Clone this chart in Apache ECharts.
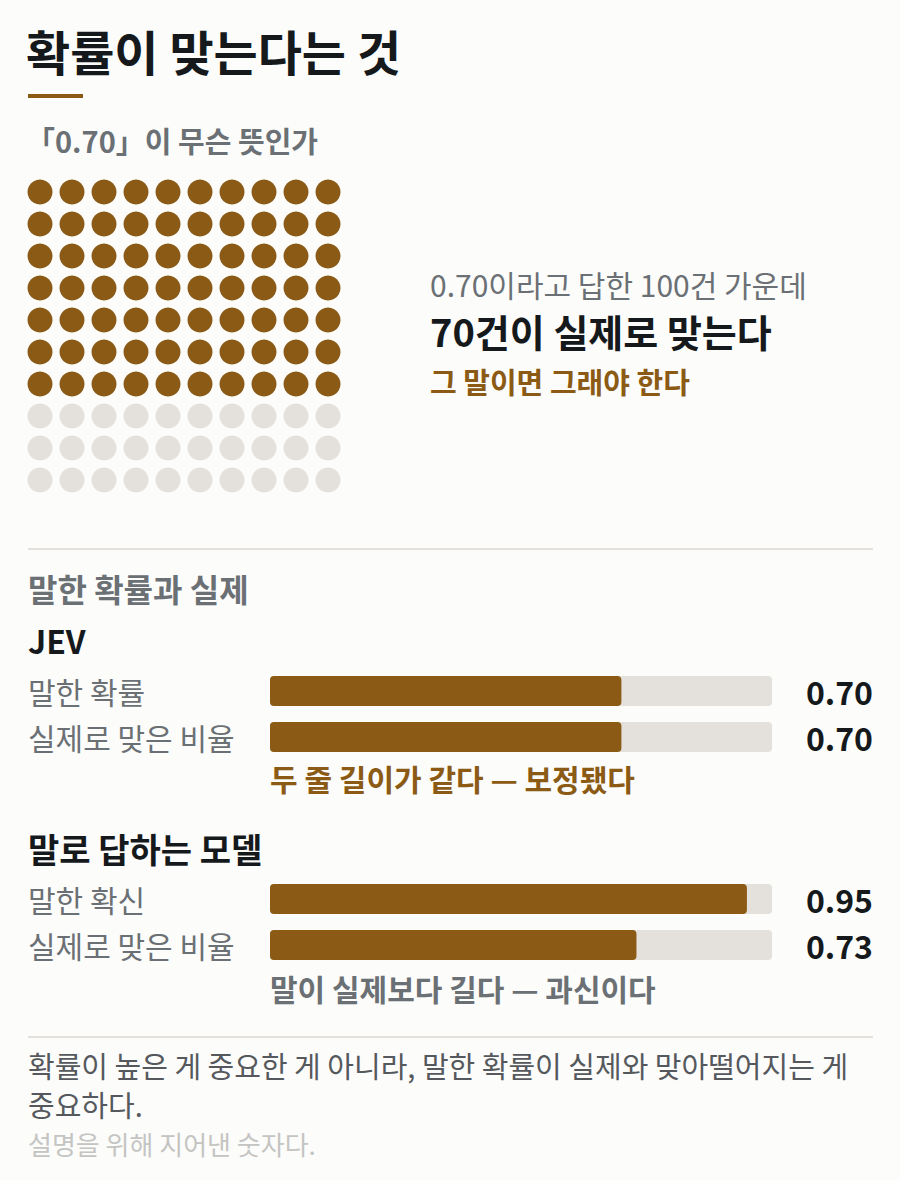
<!DOCTYPE html>
<html><head><meta charset="utf-8">
<script src="https://cdn.jsdelivr.net/npm/echarts@6/dist/echarts.min.js"></script>
<style>html,body{margin:0;padding:0;background:#fcfcfa;}#c{width:900px;height:1180px;}</style>
</head><body><div id="c"></div>
<script>
// ---- data ----
var totalCases = 100;
var hitCases = 70;
var gridCols = 10;
var jevLabels = ['말한 확률', '실제로 맞은 비율'];
var jevValues = [0.70, 0.70];
var verbalLabels = ['말한 확신', '실제로 맞은 비율'];
var verbalValues = [0.95, 0.73];

var FONT = '"Noto Sans CJK KR", "Noto Sans", sans-serif';
var BROWN = '#8b5a14', TRACK = '#e4e1dc', DARK = '#15191c', GREY = '#6b7075';

var dotsOn = [], dotsOff = [];
for (var i = 0; i < totalCases; i++) {
  var pt = [i % gridCols, Math.floor(i / gridCols)];
  (i < hitCases ? dotsOn : dotsOff).push(pt);
}
var colCats = [], rowCats = [];
for (var k = 0; k < gridCols; k++) { colCats.push(k); }
for (var r = 0; r < totalCases / gridCols; r++) { rowCats.push(r); }

function txt(x, y, s, size, weight, color) {
  return { type: 'text', x: x, y: y, style: { text: s, font: weight + ' ' + size + 'px ' + FONT, fill: color, textAlign: 'left', textVerticalAlign: 'middle' } };
}

function barAxes(gi, labels, values) {
  return {
    y1: { type: 'category', gridIndex: gi, data: labels, inverse: true, axisLine: { show: false }, axisTick: { show: false },
      axisLabel: { align: 'left', margin: 242, fontFamily: FONT, fontSize: 30, color: GREY } },
    y2: { type: 'category', gridIndex: gi, position: 'right', data: values.map(function (v) { return v.toFixed(2); }), inverse: true,
      axisLine: { show: false }, axisTick: { show: false },
      axisLabel: { align: 'right', margin: 101, fontFamily: FONT, fontSize: 32, fontWeight: 'bold', color: DARK } },
    x: { type: 'value', gridIndex: gi, min: 0, max: 1, show: false }
  };
}
var a1 = barAxes(1, jevLabels, jevValues), a2 = barAxes(2, verbalLabels, verbalValues);

function barSeries(xi, yi, values) {
  return { type: 'bar', xAxisIndex: xi, yAxisIndex: yi, data: values, barWidth: 30, silent: true,
    itemStyle: { color: BROWN, borderRadius: 4 }, showBackground: true,
    backgroundStyle: { color: TRACK, borderRadius: 4 } };
}

var chart = echarts.init(document.getElementById('c'), null, { renderer: 'svg', width: 900, height: 1180 });
chart.setOption({
  backgroundColor: '#fcfcfa',
  animation: false,
  grid: [
    { left: 24, top: 176, width: 320, height: 320 },
    { left: 270, right: 128, top: 668, height: 92 },
    { left: 270, right: 128, top: 876, height: 92 }
  ],
  xAxis: [
    { type: 'category', gridIndex: 0, data: colCats, show: false },
    a1.x, a2.x
  ],
  yAxis: [
    { type: 'category', gridIndex: 0, data: rowCats, inverse: true, show: false },
    a1.y1, a1.y2, a2.y1, a2.y2
  ],
  series: [
    { type: 'scatter', xAxisIndex: 0, yAxisIndex: 0, data: dotsOn, symbolSize: 25, itemStyle: { color: BROWN, opacity: 1 }, silent: true },
    { type: 'scatter', xAxisIndex: 0, yAxisIndex: 0, data: dotsOff, symbolSize: 25, itemStyle: { color: TRACK, opacity: 1 }, silent: true },
    barSeries(1, 1, jevValues),
    barSeries(2, 3, verbalValues)
  ],
  graphic: [
    txt(26, 50, '확률이 맞는다는 것', 48, 'bold', DARK),
    { type: 'rect', shape: { x: 28, y: 94, width: 55, height: 4 }, style: { fill: BROWN } },
    txt(26, 140, '「0.70」이 무슨 뜻인가', 29, 'bold', GREY),
    txt(430, 284, '0.70이라고 답한 ' + totalCases + '건 가운데', 30, 'normal', GREY),
    txt(430, 330, hitCases + '건이 실제로 맞는다', 38, 'bold', DARK),
    txt(430, 381, '그 말이면 그래야 한다', 29, 'bold', BROWN),
    { type: 'rect', shape: { x: 28, y: 548, width: 845, height: 2 }, style: { fill: TRACK } },
    txt(28, 588, '말한 확률과 실제', 32, 'bold', GREY),
    txt(28, 640, 'JEV', 32, 'bold', DARK),
    txt(270, 778, '두 줄 길이가 같다 — 보정됐다', 30, 'bold', BROWN),
    txt(28, 848, '말로 답하는 모델', 34, 'bold', DARK),
    txt(270, 988, '말이 실제보다 길다 — 과신이다', 30, 'bold', GREY),
    { type: 'rect', shape: { x: 28, y: 1036, width: 845, height: 2 }, style: { fill: TRACK } },
    txt(28, 1065, '확률이 높은 게 중요한 게 아니라, 말한 확률이 실제와 맞아떨어지는 게', 29, 'normal', '#55595d'),
    txt(28, 1104, '중요하다.', 29, 'normal', '#55595d'),
    txt(28, 1143, '설명을 위해 지어낸 숫자다.', 26, 'normal', '#c4c4c2')
  ]
});
</script></body></html>
